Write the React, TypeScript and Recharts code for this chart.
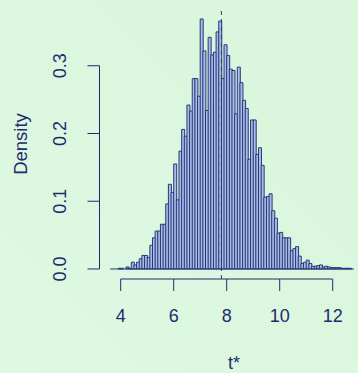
import React from 'react';
import { ComposedChart, Bar, XAxis, YAxis, ReferenceLine, Label } from 'recharts';

// histogram of bootstrap t*, bin width 0.1, values are bin midpoints
const binMids = [
  3.65, 3.75, 3.85, 3.95, 4.05, 4.15, 4.25, 4.35, 4.45, 4.55,
  4.65, 4.75, 4.85, 4.95, 5.05, 5.15, 5.25, 5.35, 5.45, 5.55,
  5.65, 5.75, 5.85, 5.95, 6.05, 6.15, 6.25, 6.35, 6.45, 6.55,
  6.65, 6.75, 6.85, 6.95, 7.05, 7.15, 7.25, 7.35, 7.45, 7.55,
  7.65, 7.75, 7.85, 7.95, 8.05, 8.15, 8.25, 8.35, 8.45, 8.55,
  8.65, 8.75, 8.85, 8.95, 9.05, 9.15, 9.25, 9.35, 9.45, 9.55,
  9.65, 9.75, 9.85, 9.95, 10.05, 10.15, 10.25, 10.35, 10.45, 10.55,
  10.65, 10.75, 10.85, 10.95, 11.05, 11.15, 11.25, 11.35, 11.45, 11.55,
  11.65, 11.75, 11.85, 11.95, 12.05, 12.15, 12.25, 12.35, 12.45, 12.55,
  12.65, 12.75,
];

const density = [
  0, 0, 0, 0.001, 0.001, 0, 0.003, 0.001, 0.010, 0.006,
  0.010, 0.015, 0.020, 0.020, 0.017, 0.035, 0.046, 0.056, 0.056, 0.066,
  0.066, 0.096, 0.125, 0.113, 0.155, 0.102, 0.174, 0.206, 0.196, 0.242,
  0.233, 0.281, 0.281, 0.255, 0.369, 0.322, 0.234, 0.342, 0.316, 0.320,
  0.350, 0.366, 0.281, 0.331, 0.315, 0.295, 0.293, 0.229, 0.298, 0.275,
  0.249, 0.237, 0.162, 0.220, 0.220, 0.169, 0.179, 0.153, 0.106, 0.107,
  0.111, 0.086, 0.075, 0.053, 0.054, 0.046, 0.046, 0.046, 0.027, 0.030,
  0.033, 0.019, 0.008, 0.010, 0.013, 0.008, 0.004, 0.004, 0.005, 0.006,
  0.003, 0.004, 0.003, 0.002, 0.002, 0.002, 0.002, 0.001, 0.001, 0.001,
  0.001, 0,
];

const xTicks = [4, 6, 8, 10, 12];
const yTicks = [0, 0.1, 0.2, 0.3];
const t0 = 7.8;

const data = binMids.map((x, i) => ({ x, density: density[i] }));

const ink = '#1f2a6e';
const barStroke = '#26397a';
const barFill = '#aabce6';
const font = '"Liberation Sans", Arial, Helvetica, sans-serif';

const xMin = 3.2;
const xMax = 12.955;
const yMin = -0.0148;
const yMax = 0.3838;

const XTick = ({ x, y, payload }: any) => (
  <text x={x} y={y + 30.5} textAnchor="middle" fill={ink} fontSize={18} fontFamily={font}>
    {payload.value}
  </text>
);

const YTick = ({ x, y, payload }: any) => (
  <text
    x={x}
    y={y}
    transform={`rotate(-90, ${x}, ${y})`}
    textAnchor="middle"
    fill={ink}
    fontSize={18}
    fontFamily={font}
  >
    {payload.value.toFixed(1)}
  </text>
);

export default function App() {
  return (
    <div
      style={{
        position: 'absolute',
        left: 0,
        top: 0,
        width: 358,
        height: 373,
        background: 'linear-gradient(45deg, #ddf9e1 0%, #d9f6dd 100%)',
        overflow: 'hidden',
      }}
    >
      <ComposedChart
        width={358}
        height={373}
        data={data}
        margin={{ top: 9, right: 0, bottom: 0, left: 0 }}
        barCategoryGap={0}
        barGap={0}
      >
        <XAxis
          dataKey="x"
          type="number"
          domain={[xMin, xMax]}
          allowDataOverflow
          ticks={xTicks}
          interval={0}
          axisLine={false}
          tickLine={{ stroke: ink }}
          tickSize={12}
          tickMargin={0}
          tick={<XTick />}
          height={94}
        >
          <Label
            content={({ viewBox }: any) => (
              <text
                x={viewBox.x + 134.5}
                y={viewBox.y + 90}
                textAnchor="middle"
                fill={ink}
                fontSize={18}
                fontFamily={font}
              >
                t*
              </text>
            )}
          />
        </XAxis>
        <YAxis
          type="number"
          domain={[yMin, yMax]}
          allowDataOverflow
          ticks={yTicks}
          interval={0}
          axisLine={false}
          tickLine={{ stroke: ink }}
          tickSize={12}
          tickMargin={21}
          tick={<YTick />}
          width={99.5}
        >
          <Label
            content={({ viewBox }: any) => {
              const cx = 26.5;
              const cy = viewBox.y + viewBox.height / 2;
              return (
                <text
                  x={cx}
                  y={cy}
                  transform={`rotate(-90, ${cx}, ${cy})`}
                  textAnchor="middle"
                  fill={ink}
                  fontSize={18.5}
                  fontFamily={font}
                >
                  Density
                </text>
              );
            }}
          />
        </YAxis>
        <ReferenceLine x={t0} stroke={barStroke} strokeDasharray="4 4" strokeWidth={1} />
        <Bar
          dataKey="density"
          fill={barFill}
          stroke={barStroke}
          strokeWidth={1}
          isAnimationActive={false}
        />
        <ReferenceLine
          segment={[
            { x: binMids[0] - 0.05, y: 0 },
            { x: binMids[binMids.length - 1] + 0.05, y: 0 },
          ]}
          stroke={barStroke}
          strokeWidth={1}
          ifOverflow="visible"
        />
        <ReferenceLine
          segment={[
            { x: xTicks[0], y: yMin },
            { x: xTicks[xTicks.length - 1], y: yMin },
          ]}
          stroke={ink}
          strokeWidth={1}
          ifOverflow="visible"
        />
        <ReferenceLine
          segment={[
            { x: xMin, y: yTicks[0] },
            { x: xMin, y: yTicks[yTicks.length - 1] },
          ]}
          stroke={ink}
          strokeWidth={1}
          ifOverflow="visible"
        />
      </ComposedChart>
    </div>
  );
}
